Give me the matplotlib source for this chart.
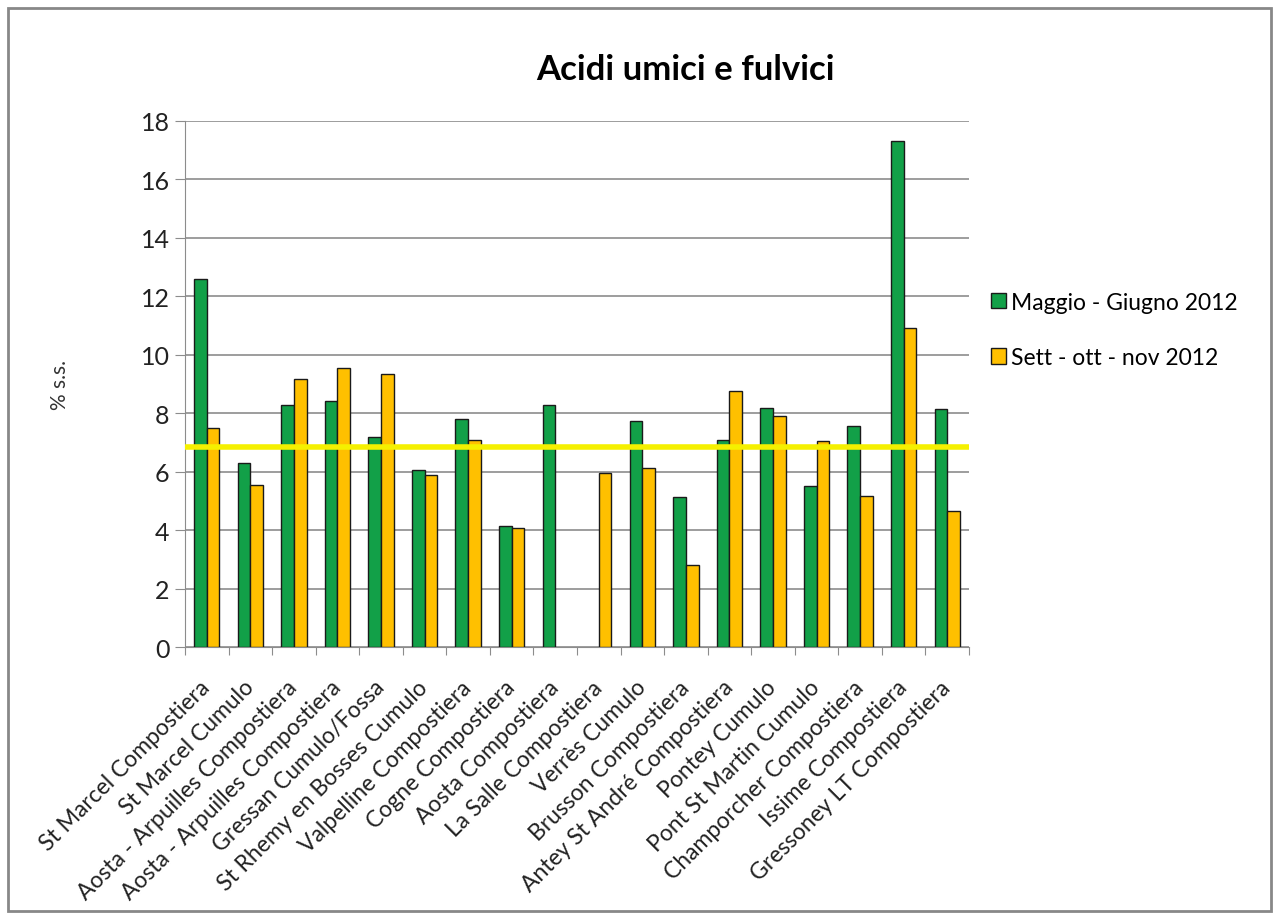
import matplotlib
matplotlib.use("Agg")
import matplotlib.pyplot as plt
import numpy as np
from matplotlib.patches import Rectangle

categories = ["St Marcel Compostiera", "St Marcel Cumulo", "Aosta - Arpuilles Compostiera",
              "Aosta - Arpuilles Compostiera", "Gressan Cumulo/Fossa", "St Rhemy en Bosses Cumulo",
              "Valpelline Compostiera", "Cogne Compostiera", "Aosta Compostiera",
              "La Salle Compostiera", "Verrès Cumulo", "Brusson Compostiera",
              "Antey St André Compostiera", "Pontey Cumulo", "Pont St Martin Cumulo",
              "Champorcher Compostiera", "Issime Compostiera", "Gressoney LT Compostiera"]
maggio = [12.6, 6.3, 8.27, 8.42, 7.19, 6.06, 7.8, 4.13, 8.27, np.nan, 7.72, 5.12,
          7.09, 8.18, 5.5, 7.56, 17.3, 8.13]
sett = [7.51, 5.55, 9.16, 9.54, 9.34, 5.88, 7.09, 4.08, np.nan, 5.96, 6.12, 2.82,
        8.75, 7.9, 7.06, 5.16, 10.91, 4.65]
soglia = 6.85
series_names = ["Maggio - Giugno 2012", "Sett - ott - nov 2012"]

plt.rcParams['font.family'] = ['Lato', 'DejaVu Sans']

fig = plt.figure(figsize=(12.79, 9.2), dpi=100)
ax = fig.add_axes([185/1279, 1-648/920, (969-185)/1279, (648-122)/920])

x = np.arange(len(categories))
w = 0.29
green = "#12A048"
orange = "#FFC000"
ax.bar(x - w/2, maggio, w, color=green, edgecolor="#1a1a1a", linewidth=1, label=series_names[0], zorder=3)
ax.bar(x + w/2, sett, w, color=orange, edgecolor="#1a1a1a", linewidth=1, label=series_names[1], zorder=3)
ax.axhline(soglia, color="#F5F000", linewidth=4, zorder=4)

ax.set_xlim(-0.5, len(categories) - 0.5)
ax.set_ylim(0, 18)
ax.set_yticks(np.arange(0, 19, 2))
ax.yaxis.grid(True, color="#8c8c8c", linewidth=1.2, zorder=0)
ax.set_axisbelow(True)
for s in ["top", "right"]:
    ax.spines[s].set_visible(False)
ax.spines["left"].set_color("#8c8c8c")
ax.spines["bottom"].set_color("#8c8c8c")
ax.tick_params(axis='y', length=7, color="#8c8c8c", labelsize=18, pad=4, labelcolor="#222222")
ax.set_xticks(np.arange(-0.5, len(categories), 1), minor=False)
ax.set_xticklabels([])
ax.set_xticks(x - 0.17, minor=True)
ax.set_xticklabels(categories, minor=True, rotation=45, ha='right', va='top',
                   rotation_mode='anchor', fontsize=16.5, color="#222222")
ax.tick_params(axis='x', which='major', length=6, color="#8c8c8c")
ax.tick_params(axis='x', which='minor', length=0, pad=21)

ax.set_ylabel("% s.s.", fontsize=15, color="#333333")
ax.yaxis.set_label_coords((70-185)/(969-185), 0.5)

fig.text(685/1279, 1-70/920, "Acidi umici e fulvici", ha='center', va='center', fontsize=25, fontweight='bold')

leg = fig.legend(loc='upper left', bbox_to_anchor=(970/1279, 1-272/920), frameon=False,
                 fontsize=16.5, handlelength=0.65, handleheight=0.65, handletextpad=0.25, labelspacing=1.5)
for h in leg.legend_handles:
    h.set_edgecolor("#1a1a1a")

fig.patches.append(Rectangle((8/1279, 8/920), 1-16/1279, 1-17/920, transform=fig.transFigure,
                             fill=False, edgecolor="#888888", linewidth=2))

fig.savefig("out.png", dpi=100)
